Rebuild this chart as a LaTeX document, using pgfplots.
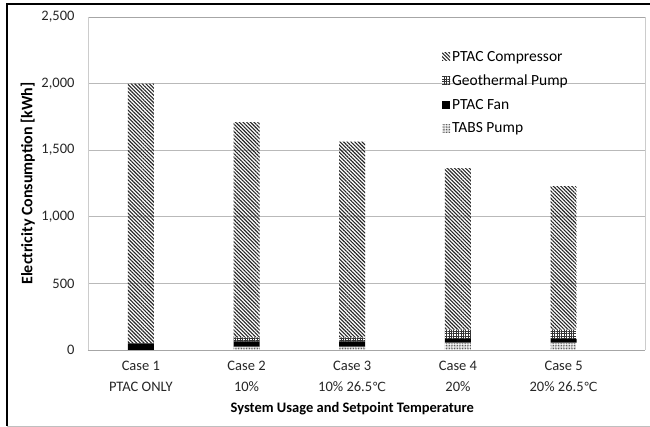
\documentclass[border=0pt]{standalone}
\usepackage{pgfplots}
\pgfplotsset{compat=1.18}
\usepackage{fontspec}
\setmainfont{Carlito}
\newfontfamily\dejavu{DejaVu Sans}
\usetikzlibrary{patterns,patterns.meta}

\begin{document}
\begin{tikzpicture}
\begin{axis}[
  anchor=south west, at={(0pt,0pt)},
  scale only axis, width=557pt, height=333pt,
  ybar stacked, bar width=26pt,
  ymin=0, ymax=2500, ytick={0,500,...,2500},
  xmin=-0.5, xmax=4.77,
  xtick={0,...,4},
  xticklabels={{Case 1\\PTAC ONLY},{Case 2\\10\%},{Case 3\\10\% 26.5{\dejavu\fontsize{12.5}{14}\selectfont ℃}},{Case 4\\20\%},{Case 5\\20\% 26.5{\dejavu\fontsize{12.5}{14}\selectfont ℃}}},
  xticklabel style={align=center, font=\fontsize{14.5}{21}\selectfont, text=black!85, yshift=-8pt},
  yticklabel style={font=\fontsize{14.5}{16}\selectfont, text=black!85, xshift=-10pt},
  /pgf/number format/.cd, 1000 sep={,}, assume math mode=true, /pgfplots/.cd,
  major tick length=0pt,
  ymajorgrids, grid style={gray!55, line width=0.6pt},
  axis line style={gray!40},
  separate axis lines,
  x axis line style={gray!70, line width=0.8pt},
  xlabel={System Usage and Setpoint Temperature},
  xlabel style={at={(axis cs:2,0)}, anchor=base, yshift=-63pt, font=\bfseries\fontsize{14.5}{16}\selectfont},
  ylabel={Electricity Consumption [kWh]},
  ylabel style={at={(axis description cs:-0.108,0.5)}, anchor=center, font=\bfseries\fontsize{16}{18}\selectfont},
  legend style={at={(0.63,0.91)}, anchor=north west, draw=none, fill=none,
    font=\fontsize{15.5}{17}\selectfont, row sep=8pt, cells={anchor=west}},
  reverse legend,
  legend image code/.code={\path[#1, draw=none] (0pt,-4pt) rectangle (8pt,4pt);},
]
\addplot[draw=none, pattern={Dots[distance=1.6pt,radius=0.55pt]}, pattern color=black!70]
  coordinates {(0,0) (1,25) (2,25) (3,55) (4,55)};
\addlegendentry{TABS Pump}
\addplot[draw=none, fill=black]
  coordinates {(0,50) (1,40) (2,40) (3,28) (4,28)};
\addlegendentry{PTAC Fan}
\addplot[draw=none, pattern={Hatch[angle=0,distance=2.4pt,line width=0.55pt]}, pattern color=black!80]
  coordinates {(0,0) (1,30) (2,30) (3,70) (4,70)};
\addlegendentry{Geothermal Pump}
\addplot[draw=none, pattern={Lines[angle=-45,distance=2.6pt,line width=1.1pt]}, pattern color=black!85]
  coordinates {(0,1950) (1,1615) (2,1470) (3,1212) (4,1077)};
\addlegendentry{PTAC Compressor}
\end{axis}
\draw[black, line width=1.2pt] (-81pt,-76pt) -- (-81pt,346pt) -- (562pt,346pt);
\draw[gray!50] (-81pt,-76pt) -- (562pt,-76pt);
\pgfresetboundingbox
\path (-88pt,-77pt) rectangle (562pt,350pt);
\end{tikzpicture}
\end{document}
